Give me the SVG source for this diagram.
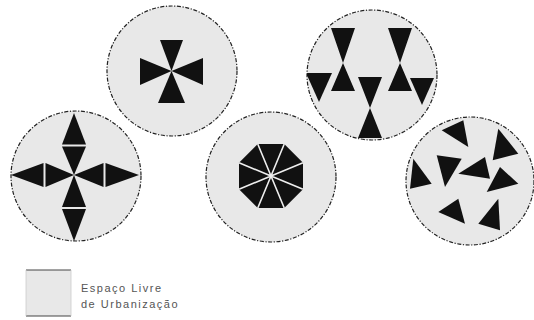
<svg xmlns="http://www.w3.org/2000/svg" width="534" height="320" viewBox="0 0 534 320">
<style>
.c{fill:#e8e8e8;stroke:#222;stroke-width:1.2;stroke-dasharray:4 1.6 1.2 1.6}
.k{fill:#111}
.w{stroke:#eee;stroke-width:1.6;fill:none}
.t{font-family:"Liberation Sans",Arial,sans-serif;font-size:11px;fill:#555;letter-spacing:1.5px}
</style>
<defs>
<clipPath id="cp2"><circle cx="372" cy="75" r="65"/></clipPath>
<clipPath id="cp3"><circle cx="76" cy="176" r="65"/></clipPath>
<clipPath id="cp5"><circle cx="470" cy="181" r="64"/></clipPath>
</defs>
<rect width="534" height="320" fill="#fff"/>

<g id="n1">
<circle class="c" cx="172" cy="71" r="65"/>
<polygon class="k" points="160,40 183,40 171.5,71"/>
<polygon class="k" points="140,58 140,85 171.5,71"/>
<polygon class="k" points="203,58 203,85 171.5,71"/>
<polygon class="k" points="158,103 185,103 171.5,71"/>
</g>

<g id="n2">
<circle class="c" cx="372" cy="75" r="65"/>
<g clip-path="url(#cp2)">
<polygon class="k" points="331,28 355,28 343,63 355,91 331,91 343,63"/>
<polygon class="k" points="388,28 412,28 400,63 412,91 388,91 400,63"/>
<polygon class="k" points="358,77 382,77 370,108 382,138 358,138 370,108"/>
<polygon class="k" points="306,73 332,73 319,102"/>
<polygon class="k" points="410,78 434,78 422,105"/>
</g>
</g>

<g id="n3">
<circle class="c" cx="76" cy="176" r="65"/>
<g clip-path="url(#cp3)">
<polygon class="k" points="74,113 86,144.5 62,144.5"/>
<polygon class="k" points="62,146.5 86,146.5 74,175"/>
<polygon class="k" points="62,207 86,207 74,175"/>
<polygon class="k" points="62,209 86,209 74,241"/>
<polygon class="k" points="11,175 43.5,163 43.5,187"/>
<polygon class="k" points="45.5,163 45.5,187 74,175"/>
<polygon class="k" points="103.5,163 103.5,187 74,175"/>
<polygon class="k" points="105.5,163 105.5,187 139,175"/>
</g>
</g>

<g id="n4">
<circle class="c" cx="271" cy="177" r="65"/>
<polygon class="k" points="303,162.75 284.25,144 257.75,144 239,162.75 239,189.25 257.75,208 284.25,208 303,189.25"/>
<path class="w" d="M271,176L303,162.75M271,176L284.25,144M271,176L257.75,144M271,176L239,162.75M271,176L239,189.25M271,176L257.75,208M271,176L284.25,208M271,176L303,189.25"/>
</g>

<g id="n5">
<circle class="c" cx="470" cy="181" r="64"/>
<g clip-path="url(#cp5)">
<polygon class="k" points="441.7,130.3 463.3,120.3 468.3,147"/>
<polygon class="k" points="498.3,128.7 518.3,153.7 492.7,160.3"/>
<polygon class="k" points="413.3,158.7 431.7,183.7 410,188.7"/>
<polygon class="k" points="436.7,155.3 461.7,158.7 445,187"/>
<polygon class="k" points="458.3,173.7 485,157 490,178.7"/>
<polygon class="k" points="500,167 518.3,183.7 486.7,192"/>
<polygon class="k" points="438.3,212 458.3,198.7 465,223.7"/>
<polygon class="k" points="478.3,223.7 498.3,198.7 500,230.3"/>
</g>
</g>

<g id="legend">
<rect x="26" y="270" width="45" height="46" fill="#e8e8e8"/>
<line x1="26" y1="270" x2="71" y2="270" stroke="#444" stroke-width="1"/>
<line x1="26" y1="316" x2="71" y2="316" stroke="#444" stroke-width="1"/>
<line x1="26" y1="270" x2="26" y2="316" stroke="#ccc" stroke-width="0.8"/>
<line x1="71" y1="270" x2="71" y2="316" stroke="#ccc" stroke-width="0.8"/>
<text class="t" x="81" y="292">Espaço Livre</text>
<text class="t" x="81" y="308">de Urbanização</text>
</g>
</svg>
